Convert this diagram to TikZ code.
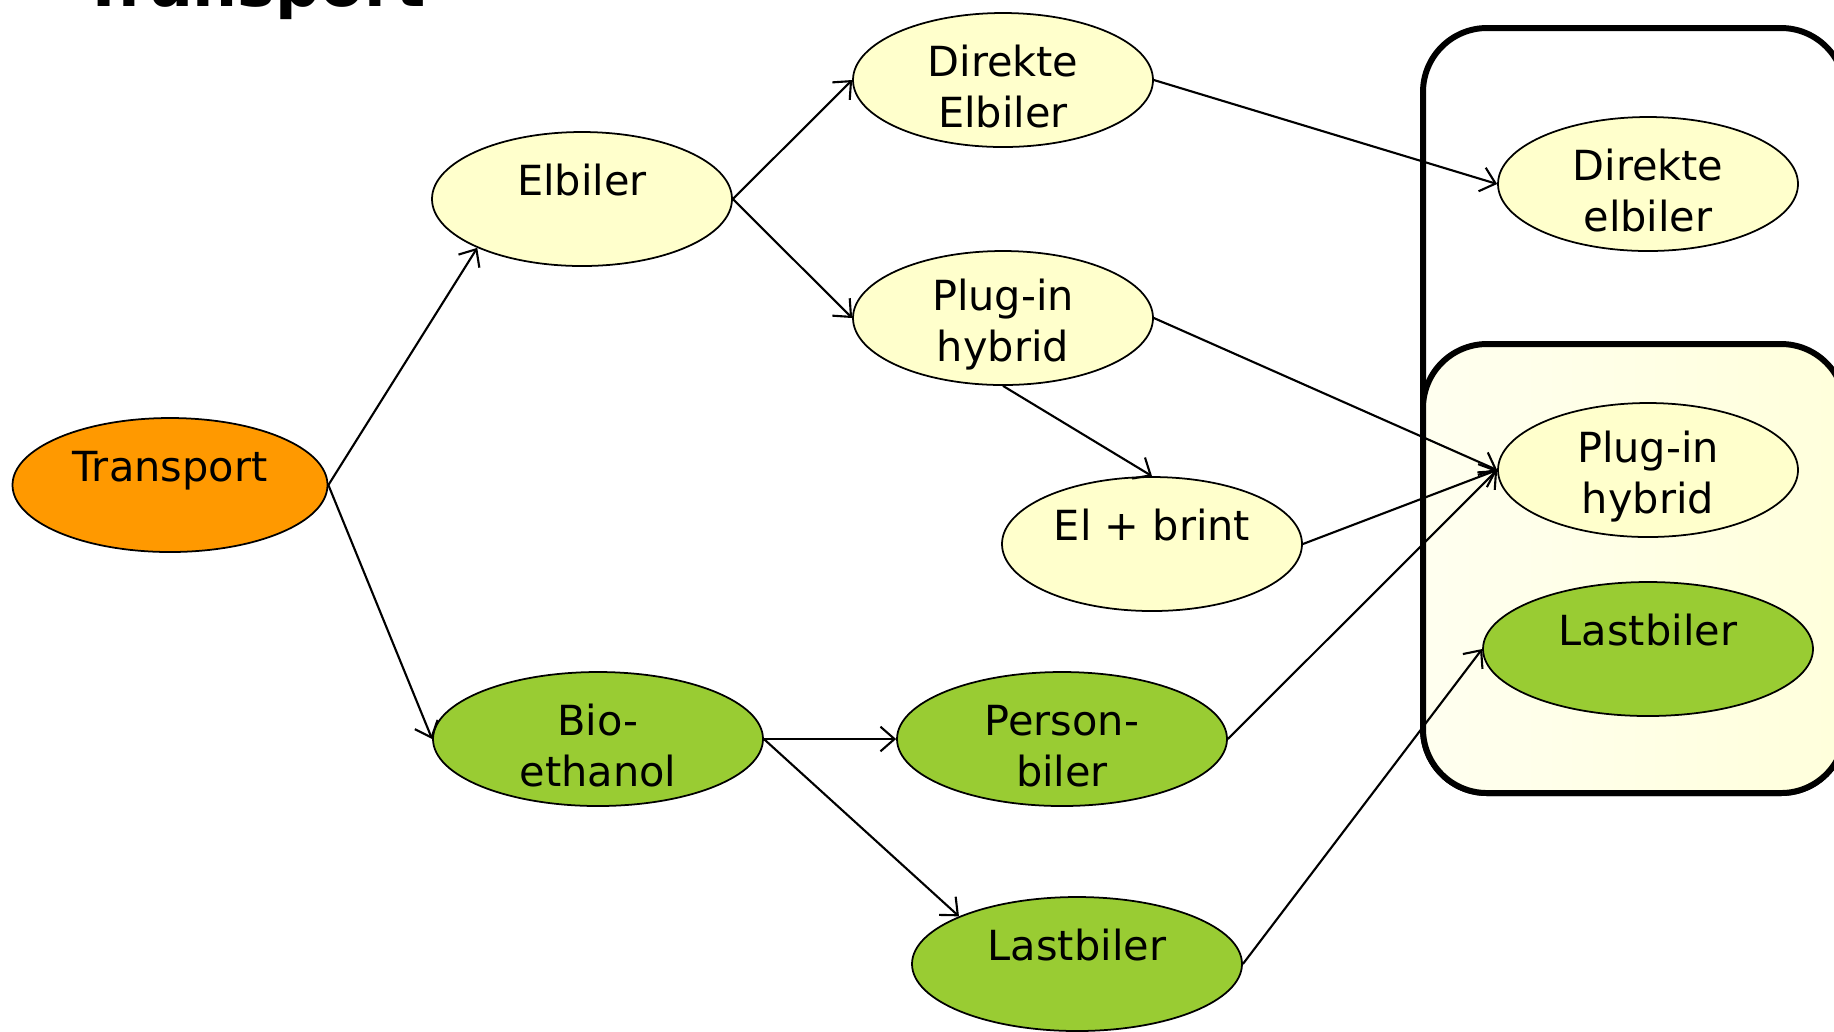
\documentclass[tikz,border=0pt]{standalone}
\usepackage{fontspec}
\setmainfont{DejaVu Sans}
\usetikzlibrary{shapes.geometric,arrows.meta}
\definecolor{lightyel}{HTML}{FFFFCC}
\definecolor{orng}{HTML}{FF9900}
\definecolor{grn}{HTML}{99CC33}
\newcommand{\myTS}{\rule{0pt}{12.6pt}}
\begin{document}
\begin{tikzpicture}[x=0.1mm,y=-0.1mm,
  el/.style={ellipse,draw=black,line width=0.5pt,inner sep=-2mm,
    minimum width=30mm,minimum height=13.4mm,align=center,
    font=\fontsize{11.8}{14.6}\selectfont},
  widenode/.style={minimum width=33mm},
  yelnode/.style={el,fill=lightyel},
  greennode/.style={el,widenode,fill=grn},
  orangenode/.style={el,fill=orng,minimum width=31.5mm},
  conn/.style={line width=0.6pt,-{Straight Barb[length=4pt,width=7pt]}},
  grp/.style={line width=1.7pt,rounded corners=6.4mm}
]
\useasboundingbox (0,0) rectangle (1834,1031);
\clip (0,0) rectangle (1834,1031);

% group boxes
\draw[grp] (1423,28) rectangle (1845,793);
\draw[grp,left color=yellow!6,right color=yellow!14] (1423,344) rectangle (1845,793);

% title (cut off at top)
\node[font=\bfseries\fontsize{18}{20}\selectfont,anchor=base west,inner sep=0pt] (title) at (82,6) {Transport};

% nodes
\node[orangenode] (T) at (170,485) {\myTS Transport\\\mbox{}};
\node[yelnode] (E) at (582,199) {\myTS Elbiler\\\mbox{}};
\node[yelnode] (DE) at (1003,80) {\myTS Direkte\\Elbiler};
\node[yelnode] (PH) at (1003,318) {\myTS Plug-in\\hybrid};
\node[yelnode] (EB) at (1152,544) {\myTS El + brint\\\mbox{}};
\node[greennode] (B) at (598,739) {\myTS Bio-\\ethanol};
\node[greennode] (PB) at (1062,739) {\myTS Person-\\biler};
\node[greennode] (L) at (1077,964) {\myTS Lastbiler\\\mbox{}};
\node[yelnode] (RD) at (1648,184) {\myTS Direkte\\elbiler};
\node[yelnode] (RP) at (1648,470) {\myTS Plug-in\\hybrid};
\node[greennode] (RL) at (1648,649) {\myTS Lastbiler\\\mbox{}};

% connectors
\draw[conn] (T.east) -- (E.205);
\draw[conn] (T.east) -- (B.west);
\draw[conn] (E.east) -- (DE.west);
\draw[conn] (E.east) -- (PH.west);
\draw[conn] (DE.east) -- (RD.west);
\draw[conn] (PH.east) -- (RP.west);
\draw[conn] (PH.south) -- (EB.north);
\draw[conn] (EB.east) -- (RP.west);
\draw[conn] (B.east) -- (PB.west);
\draw[conn] (B.east) -- (L.158);
\draw[conn] (PB.east) -- (RP.west);
\draw[conn] (L.east) -- (RL.west);
\end{tikzpicture}
\end{document}
